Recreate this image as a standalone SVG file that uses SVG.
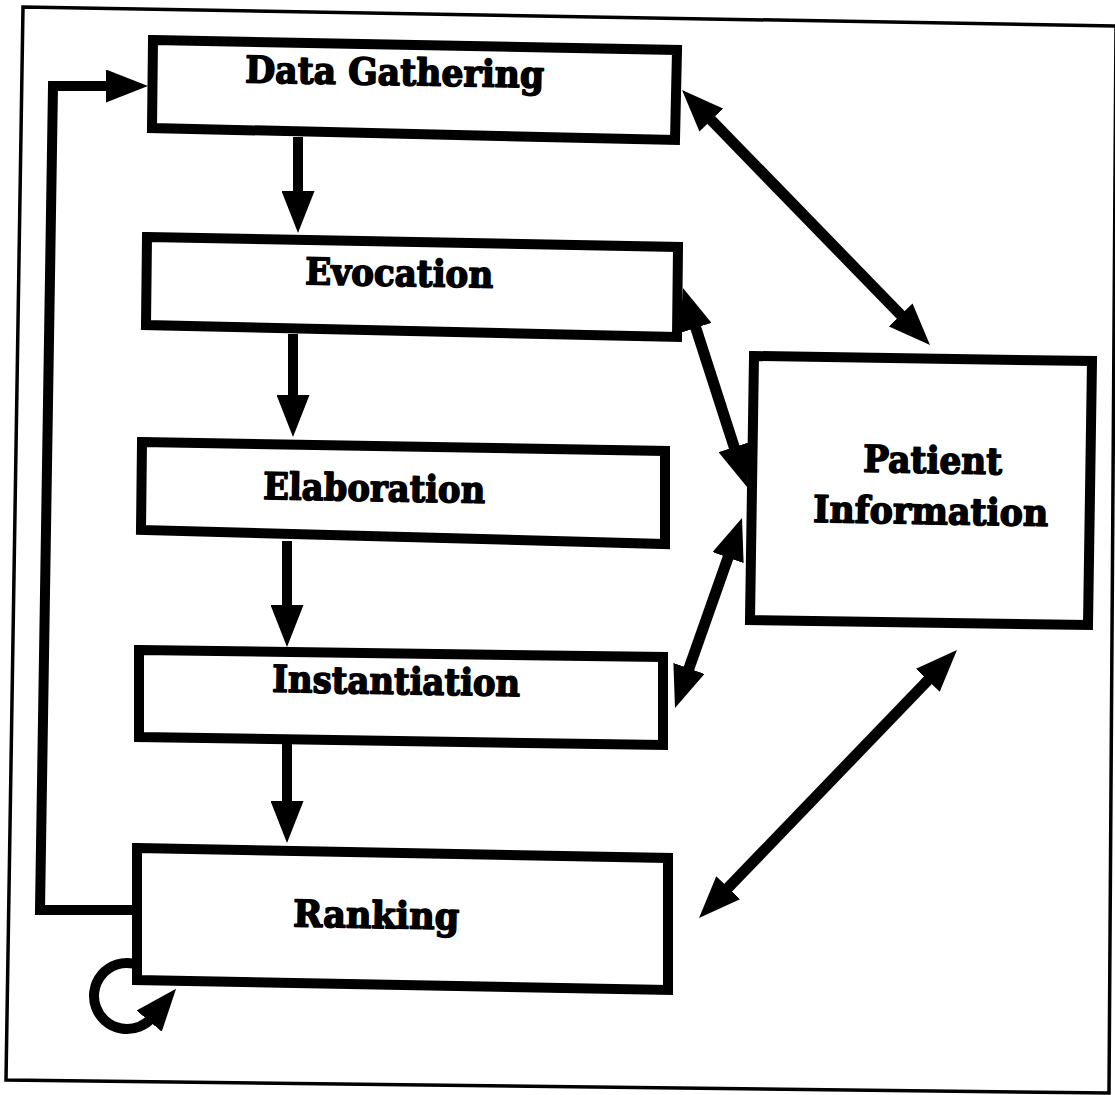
<svg xmlns="http://www.w3.org/2000/svg" width="1115" height="1095" viewBox="0 0 1115 1095">
<defs>
<style>
.box{fill:#fff;stroke:#000;stroke-width:10;stroke-linejoin:miter}
.lbl{font-family:"DejaVu Serif","Liberation Serif",serif;font-weight:bold;font-size:37px;fill:#000;stroke:#000;stroke-width:1.6;stroke-linejoin:round}
.con{fill:none;stroke:#000;stroke-width:10}
.dia{stroke-width:11}
.arr{marker-end:url(#ah)}
.dbl{marker-start:url(#ah);marker-end:url(#ah)}
</style>
<marker id="ah" markerUnits="userSpaceOnUse" markerWidth="42" markerHeight="33" viewBox="0 0 42 33" refX="5" refY="16.5" orient="auto-start-reverse">
<path d="M0,0 L42,16.5 L0,33 z" fill="#000"/>
</marker>
</defs>
<rect x="0" y="0" width="1115" height="1095" fill="#fff"/>
<polygon id="frame" points="23,7 1116,26 1109,1093 6,1080" fill="none" stroke="#000" stroke-width="3.5"/>

<g id="node-data-gathering">
<polygon class="box" points="153,40 677,50 675,140 152,128"/>
<text class="lbl" x="245" y="85" textLength="299" lengthAdjust="spacingAndGlyphs" transform="rotate(1 395 85)">Data Gathering</text>
</g>
<g id="node-evocation">
<polygon class="box" points="147,237 678,247 677,337 146,325"/>
<text class="lbl" x="305" y="286" textLength="188" lengthAdjust="spacingAndGlyphs" transform="rotate(1 399 286)">Evocation</text>
</g>
<g id="node-elaboration">
<polygon class="box" points="142,442 665,451 665,544 141,530"/>
<text class="lbl" x="263" y="501" textLength="222" lengthAdjust="spacingAndGlyphs" transform="rotate(1 374 501)">Elaboration</text>
</g>
<g id="node-instantiation">
<polygon class="box" points="139,650 663,657 663,745 139,737"/>
<text class="lbl" x="272" y="694" textLength="248" lengthAdjust="spacingAndGlyphs" transform="rotate(1 396 694)">Instantiation</text>
</g>
<g id="node-ranking">
<polygon class="box" points="137,848 668,858 668,990 137,980"/>
<text class="lbl" x="293" y="928" textLength="166" lengthAdjust="spacingAndGlyphs" transform="rotate(1 376 928)">Ranking</text>
</g>
<g id="node-patient-information">
<polygon class="box" points="754,356 1092,361 1088,625 750,620"/>
<text class="lbl" x="863" y="473" textLength="139" lengthAdjust="spacingAndGlyphs" transform="rotate(1 932 473)">Patient</text>
<text class="lbl" x="813" y="524" textLength="235" lengthAdjust="spacingAndGlyphs" transform="rotate(1 930 524)">Information</text>
</g>

<g id="connectors">
<line class="con arr" x1="298" y1="137" x2="298" y2="196"/>
<line class="con arr" x1="293" y1="334" x2="293" y2="400"/>
<line class="con arr" x1="287" y1="541" x2="287" y2="610"/>
<line class="con arr" x1="287" y1="741" x2="287" y2="806"/>
<path class="con arr" d="M137,910 L40,910 L53,86 L111,86" stroke-linejoin="miter"/>
<path class="con arr" d="M132.7,963.5 A33,33 0 1 0 152.3,1017.2"/>
<line class="con dia dbl" x1="707.8" y1="116.5" x2="904.2" y2="318.5"/>
<line class="con dia dbl" x1="694.3" y1="323.2" x2="735.7" y2="451.8"/>
<line class="con dia dbl" x1="729.7" y1="552.9" x2="687.3" y2="673.1"/>
<line class="con dia dbl" x1="931.3" y1="676.7" x2="724.7" y2="891.3"/>
</g>
</svg>
